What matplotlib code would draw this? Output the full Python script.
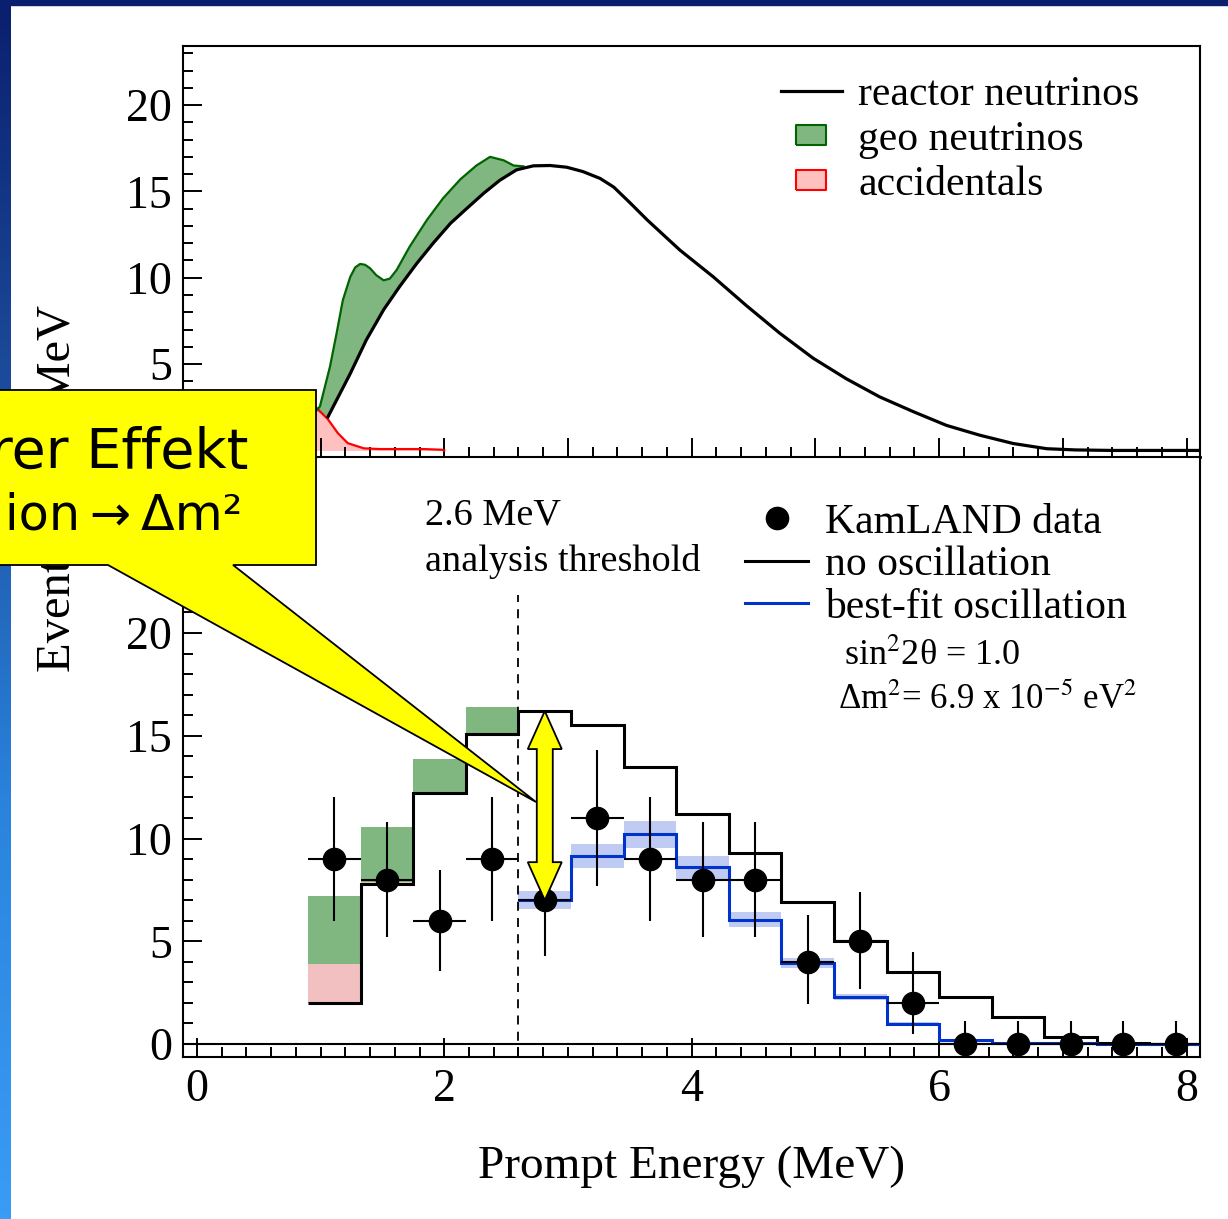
import numpy as np
import matplotlib
matplotlib.use("Agg")
import matplotlib.pyplot as plt
import matplotlib.ticker as mticker
from matplotlib.patches import Polygon, Rectangle
from matplotlib.lines import Line2D
from matplotlib.colors import LinearSegmentedColormap

plt.rcParams['font.family'] = ['Liberation Serif', 'DejaVu Serif']
plt.rcParams['mathtext.fontset'] = 'stix'

# top panel: continuous spectra (Events/0.425 MeV vs prompt energy)
reactor_e = [1.06, 1.24, 1.37, 1.51, 1.64, 1.78, 1.91, 2.05, 2.18, 2.32, 2.45, 2.585,
             2.72, 2.855, 2.99, 3.12, 3.26, 3.37, 3.50, 3.64, 3.905, 4.175, 4.44, 4.71,
             4.98, 5.25, 5.52, 5.79, 6.06, 6.33, 6.60, 6.87, 7.10, 7.40, 8.10]
reactor_y = [1.95, 4.45, 6.40, 8.15, 9.50, 10.85, 12.0, 13.15, 14.0, 14.9, 15.65, 16.25,
             16.48, 16.5, 16.4, 16.15, 15.75, 15.25, 14.35, 13.35, 11.6, 10.05, 8.4,
             6.8, 5.35, 4.15, 3.1, 2.25, 1.45, 0.88, 0.4, 0.1, 0.03, 0.0, 0.0]
# reactor + geo neutrinos
geo_e = [0.965, 0.995, 1.076, 1.13, 1.18, 1.24, 1.28, 1.32, 1.36, 1.40, 1.45, 1.51,
         1.56, 1.615, 1.72, 1.86, 1.99, 2.13, 2.26, 2.37, 2.48, 2.56, 2.64]
geo_y = [2.3, 2.55, 4.85, 6.8, 8.7, 10.05, 10.6, 10.8, 10.75, 10.55, 10.15, 9.85,
         9.95, 10.45, 11.8, 13.35, 14.6, 15.7, 16.5, 17.0, 16.8, 16.5, 16.45]
acc_e = [0.90, 0.955, 1.06, 1.14, 1.22, 1.35, 1.48, 1.83, 1.98, 2.0]
acc_y = [3.0, 2.55, 1.8, 1.0, 0.42, 0.12, 0.08, 0.08, 0.04, 0.0]

# bottom panel: binned spectrum
bin_edges = [0.9, 1.325, 1.75, 2.175, 2.6, 3.025, 3.45, 3.875, 4.3, 4.725, 5.15,
             5.575, 6.0, 6.425, 6.85, 7.275, 7.7, 8.125]
no_osc = [2.0, 7.8, 12.2, 15.1, 16.2, 15.5, 13.5, 11.2, 9.3, 6.9, 5.0, 3.5, 2.3,
          1.3, 0.35, 0.03, 0.02]
acc_bins = [1.9, 0.1, 0.05, 0.0]
geo_bins = [3.3, 2.65, 1.6, 1.3]
best_fit = [7.0, 9.15, 10.2, 8.6, 6.05, 3.95, 2.3, 0.97, 0.2, 0.05, 0.03, 0.02, 0.01]
best_fit_err = [0.43, 0.6, 0.65, 0.55, 0.35, 0.25, 0.15, 0.08, 0.05, 0.02, 0.01, 0.01, 0.01]
data = [9, 8, 6, 9, 7, 11, 9, 8, 8, 4, 5, 2, 0, 0, 0, 0, 0]
err_lo = [3.0, 2.8, 2.45, 3.0, 2.7, 3.3, 3.0, 2.8, 2.8, 2.05, 2.3, 1.5, 0, 0, 0, 0, 0]
err_hi = [3.0, 2.8, 2.45, 3.0, 3.0, 3.3, 3.0, 2.8, 2.8, 2.3, 2.4, 2.5, 1.1, 1.1, 1.1, 1.1, 1.1]
threshold = 2.6

GREEN = '#80b67f'
DKGREEN = '#006400'
PINK = '#ffc0c0'
PINK2 = '#f2c0c0'
BLUE = '#0033cc'
LBLUE = '#bfcbf2'

W, H = 1228, 1219
fig = plt.figure(figsize=(W / 100, H / 100), dpi=100)
fig.patch.set_facecolor('white')

ax1 = fig.add_axes([183 / W, 1 - 457 / H, 1017 / W, 411 / H])
ax2 = fig.add_axes([183 / W, 1 - 1057 / H, 1017 / W, 600 / H])

# ---- top panel
edges = np.array(bin_edges)
ax1.fill_between(acc_e, 0, acc_y, color=PINK, lw=0, zorder=1)
ax1.plot(acc_e, acc_y, color='red', lw=1.6, zorder=3)
re = np.array(reactor_e)
ry = np.array(reactor_y)
sel = re <= geo_e[-1]
poly_x = np.concatenate([geo_e, re[sel][::-1]])
poly_y = np.concatenate([geo_y, ry[sel][::-1]])
ax1.fill(poly_x, poly_y, color=GREEN, lw=0, zorder=2)
ax1.plot(geo_e, geo_y, color=DKGREEN, lw=1.6, zorder=3)
ax1.plot(reactor_e, reactor_y, color='black', lw=2.3, zorder=4, solid_joinstyle='round')

h_reac = Line2D([], [], color='black', lw=2.3)
rect = [(-1.5, -1), (1.5, -1), (1.5, 1), (-1.5, 1), (-1.5, -1)]
h_geo = Line2D([], [], ls='none', marker=rect, markersize=22, markerfacecolor=GREEN,
               markeredgecolor=DKGREEN, markeredgewidth=1.5)
h_acc = Line2D([], [], ls='none', marker=rect, markersize=22, markerfacecolor=PINK,
               markeredgecolor='red', markeredgewidth=1.5)
ax1.legend([h_reac, h_geo, h_acc], ['reactor neutrinos', 'geo neutrinos', 'accidentals'],
           loc='upper left', bbox_to_anchor=(0.588, 0.928), frameon=False, fontsize=30,
           handlelength=1.46, handletextpad=0.4, labelspacing=0.15, borderpad=0,
           borderaxespad=0)

ax1.set_xlim(-0.112, 8.109)
ax1.set_ylim(-0.38, 23.42)
ax1.xaxis.set_major_locator(mticker.MultipleLocator(1))
ax1.xaxis.set_minor_locator(mticker.MultipleLocator(0.2))
ax1.yaxis.set_major_locator(mticker.MultipleLocator(5))
ax1.yaxis.set_minor_locator(mticker.MultipleLocator(1))
ax1.tick_params(axis='x', labelbottom=False)
# the 0 label sits behind the callout box
ax1.yaxis.set_major_formatter(mticker.FuncFormatter(lambda v, p: '' if v < 1 else f'{v:.0f}'))

# ---- bottom panel
ax2.stairs(np.array(no_osc[:4]) + acc_bins, edges[:5], baseline=no_osc[:4], fill=True,
           color=PINK2, lw=0, zorder=1)
lower = np.array(no_osc[:4]) + acc_bins
ax2.stairs(lower + geo_bins, edges[:5], baseline=lower, fill=True, color=GREEN, lw=0,
           zorder=1)
bf = np.array(best_fit)
bfe = np.array(best_fit_err)
ax2.stairs(bf + bfe, edges[4:], baseline=bf - bfe, fill=True, color=LBLUE, lw=0, zorder=1)
ax2.axhline(0, color='black', lw=1.5, zorder=2)
ax2.stairs(no_osc, edges, baseline=None, color='black', lw=2.2, zorder=3)
ax2.stairs(best_fit, edges[4:], baseline=None, color=BLUE, lw=2.2, zorder=3)
ax2.axvline(threshold, ymax=0.77, color='black', lw=1.3, ls=(0, (5, 4)), zorder=2)

centers = (edges[:-1] + edges[1:]) / 2
halfw = np.diff(edges) / 2
ax2.errorbar(centers, data, yerr=[err_lo, err_hi], xerr=halfw, fmt='o', color='black',
             ms=16, elinewidth=1.5, capsize=0, zorder=5)

ax2.text(1.844, 26.55, '2.6 MeV\nanalysis threshold', fontsize=27.5, va='top',
         ha='left', linespacing=1.4)

h_data = Line2D([], [], ls='none', marker='o', color='black', ms=16)
h_no = Line2D([], [], color='black', lw=2.2)
h_bf = Line2D([], [], color=BLUE, lw=2.2)
ax2.legend([h_data, h_no, h_bf], ['KamLAND data', 'no oscillation', 'best-fit oscillation'],
           loc='upper left', bbox_to_anchor=(0.553, 0.923), frameon=False, fontsize=30,
           handlelength=1.5, handletextpad=0.4, labelspacing=0.1, borderpad=0,
           borderaxespad=0)
ax2.text(5.23, 18.9, 'sin$^2$2\u03b8 = 1.0', fontsize=26, va='center', ha='left')
ax2.text(5.18, 16.75, '\u0394m$^2$= 6.9 x 10$^{-5}$ eV$^2$', fontsize=25,
         va='center', ha='left')

ax2.set_xlim(-0.112, 8.109)
ax2.set_ylim(-0.63, 28.56)
ax2.xaxis.set_major_locator(mticker.MultipleLocator(2))
ax2.xaxis.set_minor_locator(mticker.MultipleLocator(0.2))
ax2.yaxis.set_major_locator(mticker.MultipleLocator(5))
ax2.yaxis.set_minor_locator(mticker.MultipleLocator(1))
# the 25 label sits behind the callout box
ax2.yaxis.set_major_formatter(mticker.FuncFormatter(lambda v, p: '' if v > 21 else f'{v:.0f}'))
ax2.set_xlabel('Prompt Energy (MeV)', fontsize=34, labelpad=25)

for ax in (ax1, ax2):
    ax.tick_params(which='both', direction='in', top=False, right=False, width=1.4,
                   labelsize=33, pad=8)
    ax.tick_params(which='major', length=14)
    ax.tick_params(which='minor', length=7.5)
    for s in ax.spines.values():
        s.set_linewidth(1.5)
ax1.spines['bottom'].set_linewidth(2)

fig.text(58 / W, 1 - 488 / H, 'Events/0.425 MeV', rotation=90, fontsize=35,
         ha='center', va='center')

# yellow double arrow between no-oscillation and best-fit in the first bin above threshold
to_fig = fig.transFigure.inverted()
xc, yt = ax2.transData.transform((centers[4], no_osc[4]))
_, yb = ax2.transData.transform((centers[4], best_fit[0]))
hw, sw, hl = 17, 8, 38
arrow = [(xc, yt), (xc + hw, yt - hl), (xc + sw, yt - hl), (xc + sw, yb + hl),
         (xc + hw, yb + hl), (xc, yb), (xc - hw, yb + hl), (xc - sw, yb + hl),
         (xc - sw, yt - hl), (xc - hw, yt - hl)]
fig.patches.append(Polygon(to_fig.transform(arrow), closed=True, facecolor='#ffff00',
                           edgecolor='black', lw=1.3, transform=fig.transFigure, zorder=10))

# callout box
callout = [(-5, 390), (316, 390), (316, 565), (233, 565), (536, 802), (108, 565), (-5, 565)]
callout = [(x / W, 1 - y / H) for x, y in callout]
fig.patches.append(Polygon(callout, closed=True, facecolor='#ffff00', edgecolor='black',
                           lw=1.3, transform=fig.transFigure, zorder=10))
fig.text(248 / W, 1 - 468 / H, 'rer Effekt', fontsize=40, family='DejaVu Sans',
         ha='right', va='baseline', zorder=11)
fig.text(242 / W, 1 - 530 / H, 'ion\u2009\u2192\u2009\u0394m\u00b2', fontsize=35.5,
         family='DejaVu Sans', ha='right', va='baseline', zorder=11)

# slide background strips
bg = fig.add_axes([0, 0, 11 / W, 1])
cmap = LinearSegmentedColormap.from_list('slide', ['#0a1f6e', '#1c4f9e', '#2a84de', '#3a9cf5'])
bg.imshow(np.linspace(0, 1, 256).reshape(-1, 1), cmap=cmap, aspect='auto')
bg.axis('off')
fig.patches.append(Rectangle((0, 1 - 5 / H), 1, 5 / H, transform=fig.transFigure,
                             color='#0a1f6e', zorder=9))

fig.savefig('out.png', dpi=100)
